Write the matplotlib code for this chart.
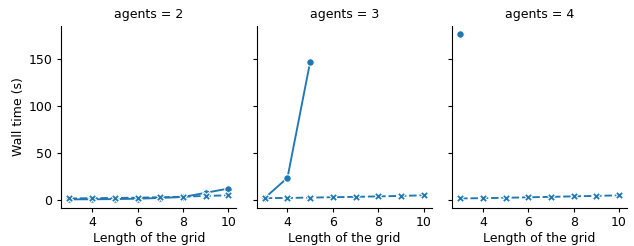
import matplotlib
matplotlib.use("Agg")
import matplotlib.pyplot as plt
import seaborn as sns
import pandas as pd

# grid sizes per agent count
grid = [3, 4, 5, 6, 7, 8, 9, 10]

# solid series (circle markers), missing where it timed out
solid_2 = [0.5, 0.6, 0.8, 1.2, 2.0, 3.0, 7.5, 12.0]
solid_3 = [2.0, 23.5, 147.0]
solid_4 = [176.0]

# dashed series (X markers)
dashed_2 = [1.5, 1.8, 2.0, 2.3, 2.8, 3.3, 4.2, 4.8]
dashed_3 = [1.8, 2.0, 2.4, 2.8, 3.2, 3.7, 4.2, 4.8]
dashed_4 = [1.5, 1.8, 2.2, 2.7, 3.2, 3.7, 4.2, 4.8]

rows = []
for agents, sol, das in [(2, solid_2, dashed_2), (3, solid_3, dashed_3), (4, solid_4, dashed_4)]:
    for g, v in zip(grid, sol):
        rows.append(dict(agents=agents, grid=g, time=v, method="a"))
    for g, v in zip(grid, das):
        rows.append(dict(agents=agents, grid=g, time=v, method="b"))
df = pd.DataFrame(rows)

plt.rcParams["font.size"] = 9
plt.rcParams["lines.linewidth"] = 1.35
plt.rcParams["lines.markersize"] = 5.4
plt.rcParams["xtick.major.size"] = 3.1
plt.rcParams["ytick.major.size"] = 3.1
plt.rcParams["xtick.major.pad"] = 2.8
plt.rcParams["axes.labelpad"] = 2.5

g = sns.relplot(data=df, x="grid", y="time", col="agents", style="method",
                kind="line", markers=True, legend=False, height=2.46, aspect=0.86)
g.set_axis_labels("Length of the grid", "Wall time (s)")
g.figure.set_size_inches(6.34, 2.46)
g.figure.subplots_adjust(left=0.097, right=0.989, top=0.894, bottom=0.156, wspace=0.117)
g.figure.savefig("out.png", dpi=100)
